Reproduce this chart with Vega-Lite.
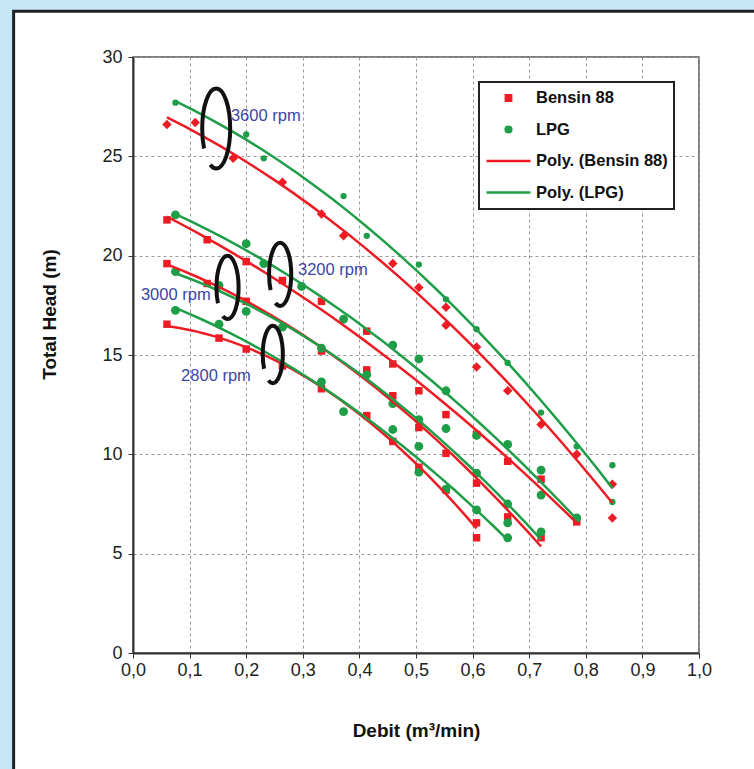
{
  "$schema": "https://vega.github.io/schema/vega-lite/v6.json",
  "autosize": "none",
  "width": 566,
  "height": 596,
  "padding": {"left": 133, "top": 57, "right": 55, "bottom": 116},
  "background": "white",
  "config": {
    "font": "Liberation Sans",
    "view": {"stroke": "#555", "strokeWidth": 1.5},
    "legend": {"strokeWidth": 2}
  },
  "datasets": {
    "pts": [
      {"fuel": "Bensin 88", "rpm": 3600, "q": 0.06, "h": 26.6},
      {"fuel": "Bensin 88", "rpm": 3600, "q": 0.11, "h": 26.7},
      {"fuel": "Bensin 88", "rpm": 3600, "q": 0.177, "h": 24.9},
      {"fuel": "Bensin 88", "rpm": 3600, "q": 0.264, "h": 23.7},
      {"fuel": "Bensin 88", "rpm": 3600, "q": 0.333, "h": 22.1},
      {"fuel": "Bensin 88", "rpm": 3600, "q": 0.372, "h": 21.0},
      {"fuel": "Bensin 88", "rpm": 3600, "q": 0.459, "h": 19.6},
      {"fuel": "Bensin 88", "rpm": 3600, "q": 0.505, "h": 18.4},
      {"fuel": "Bensin 88", "rpm": 3600, "q": 0.553, "h": 17.4},
      {"fuel": "Bensin 88", "rpm": 3600, "q": 0.553, "h": 16.5},
      {"fuel": "Bensin 88", "rpm": 3600, "q": 0.607, "h": 15.4},
      {"fuel": "Bensin 88", "rpm": 3600, "q": 0.607, "h": 14.4},
      {"fuel": "Bensin 88", "rpm": 3600, "q": 0.662, "h": 13.2},
      {"fuel": "Bensin 88", "rpm": 3600, "q": 0.721, "h": 11.5},
      {"fuel": "Bensin 88", "rpm": 3600, "q": 0.784, "h": 10.0},
      {"fuel": "Bensin 88", "rpm": 3600, "q": 0.847, "h": 8.5},
      {"fuel": "Bensin 88", "rpm": 3600, "q": 0.847, "h": 6.8},
      {"fuel": "LPG", "rpm": 3600, "q": 0.075, "h": 27.7},
      {"fuel": "LPG", "rpm": 3600, "q": 0.2, "h": 26.1},
      {"fuel": "LPG", "rpm": 3600, "q": 0.231, "h": 24.9},
      {"fuel": "LPG", "rpm": 3600, "q": 0.372, "h": 23.0},
      {"fuel": "LPG", "rpm": 3600, "q": 0.413, "h": 21.0},
      {"fuel": "LPG", "rpm": 3600, "q": 0.505, "h": 19.55},
      {"fuel": "LPG", "rpm": 3600, "q": 0.553, "h": 17.8},
      {"fuel": "LPG", "rpm": 3600, "q": 0.607, "h": 16.3},
      {"fuel": "LPG", "rpm": 3600, "q": 0.662, "h": 14.6},
      {"fuel": "LPG", "rpm": 3600, "q": 0.721, "h": 12.1},
      {"fuel": "LPG", "rpm": 3600, "q": 0.784, "h": 10.4},
      {"fuel": "LPG", "rpm": 3600, "q": 0.847, "h": 9.45},
      {"fuel": "LPG", "rpm": 3600, "q": 0.847, "h": 7.6},
      {"fuel": "Bensin 88", "rpm": 3200, "q": 0.06, "h": 21.8},
      {"fuel": "Bensin 88", "rpm": 3200, "q": 0.131, "h": 20.8},
      {"fuel": "Bensin 88", "rpm": 3200, "q": 0.2, "h": 19.7},
      {"fuel": "Bensin 88", "rpm": 3200, "q": 0.264, "h": 18.75},
      {"fuel": "Bensin 88", "rpm": 3200, "q": 0.333, "h": 17.7},
      {"fuel": "Bensin 88", "rpm": 3200, "q": 0.413, "h": 16.2},
      {"fuel": "Bensin 88", "rpm": 3200, "q": 0.459, "h": 14.55},
      {"fuel": "Bensin 88", "rpm": 3200, "q": 0.505, "h": 13.2},
      {"fuel": "Bensin 88", "rpm": 3200, "q": 0.553, "h": 12.0},
      {"fuel": "Bensin 88", "rpm": 3200, "q": 0.607, "h": 11.0},
      {"fuel": "Bensin 88", "rpm": 3200, "q": 0.662, "h": 9.65},
      {"fuel": "Bensin 88", "rpm": 3200, "q": 0.721, "h": 8.75},
      {"fuel": "Bensin 88", "rpm": 3200, "q": 0.784, "h": 6.6},
      {"fuel": "LPG", "rpm": 3200, "q": 0.075, "h": 22.05},
      {"fuel": "LPG", "rpm": 3200, "q": 0.2, "h": 20.6},
      {"fuel": "LPG", "rpm": 3200, "q": 0.231, "h": 19.6},
      {"fuel": "LPG", "rpm": 3200, "q": 0.298, "h": 18.45},
      {"fuel": "LPG", "rpm": 3200, "q": 0.372, "h": 16.8},
      {"fuel": "LPG", "rpm": 3200, "q": 0.459, "h": 15.5},
      {"fuel": "LPG", "rpm": 3200, "q": 0.505, "h": 14.8},
      {"fuel": "LPG", "rpm": 3200, "q": 0.553, "h": 13.2},
      {"fuel": "LPG", "rpm": 3200, "q": 0.607, "h": 10.95},
      {"fuel": "LPG", "rpm": 3200, "q": 0.662, "h": 10.5},
      {"fuel": "LPG", "rpm": 3200, "q": 0.721, "h": 9.2},
      {"fuel": "LPG", "rpm": 3200, "q": 0.721, "h": 7.95},
      {"fuel": "LPG", "rpm": 3200, "q": 0.784, "h": 6.8},
      {"fuel": "Bensin 88", "rpm": 3000, "q": 0.06, "h": 19.6},
      {"fuel": "Bensin 88", "rpm": 3000, "q": 0.131, "h": 18.6},
      {"fuel": "Bensin 88", "rpm": 3000, "q": 0.2, "h": 17.7},
      {"fuel": "Bensin 88", "rpm": 3000, "q": 0.333, "h": 15.2},
      {"fuel": "Bensin 88", "rpm": 3000, "q": 0.413, "h": 14.25},
      {"fuel": "Bensin 88", "rpm": 3000, "q": 0.459, "h": 12.95},
      {"fuel": "Bensin 88", "rpm": 3000, "q": 0.505, "h": 11.35},
      {"fuel": "Bensin 88", "rpm": 3000, "q": 0.553, "h": 10.05},
      {"fuel": "Bensin 88", "rpm": 3000, "q": 0.607, "h": 8.55},
      {"fuel": "Bensin 88", "rpm": 3000, "q": 0.662, "h": 6.85},
      {"fuel": "Bensin 88", "rpm": 3000, "q": 0.721, "h": 5.8},
      {"fuel": "LPG", "rpm": 3000, "q": 0.075, "h": 19.2},
      {"fuel": "LPG", "rpm": 3000, "q": 0.152, "h": 18.5},
      {"fuel": "LPG", "rpm": 3000, "q": 0.2, "h": 17.2},
      {"fuel": "LPG", "rpm": 3000, "q": 0.264, "h": 16.4},
      {"fuel": "LPG", "rpm": 3000, "q": 0.333, "h": 15.35},
      {"fuel": "LPG", "rpm": 3000, "q": 0.413, "h": 14.0},
      {"fuel": "LPG", "rpm": 3000, "q": 0.459, "h": 12.55},
      {"fuel": "LPG", "rpm": 3000, "q": 0.505, "h": 11.75},
      {"fuel": "LPG", "rpm": 3000, "q": 0.553, "h": 11.3},
      {"fuel": "LPG", "rpm": 3000, "q": 0.607, "h": 9.05},
      {"fuel": "LPG", "rpm": 3000, "q": 0.662, "h": 7.5},
      {"fuel": "LPG", "rpm": 3000, "q": 0.662, "h": 6.55},
      {"fuel": "LPG", "rpm": 3000, "q": 0.721, "h": 6.1},
      {"fuel": "Bensin 88", "rpm": 2800, "q": 0.06, "h": 16.55},
      {"fuel": "Bensin 88", "rpm": 2800, "q": 0.152, "h": 15.85},
      {"fuel": "Bensin 88", "rpm": 2800, "q": 0.2, "h": 15.3},
      {"fuel": "Bensin 88", "rpm": 2800, "q": 0.264, "h": 14.45},
      {"fuel": "Bensin 88", "rpm": 2800, "q": 0.333, "h": 13.3},
      {"fuel": "Bensin 88", "rpm": 2800, "q": 0.413, "h": 11.95},
      {"fuel": "Bensin 88", "rpm": 2800, "q": 0.459, "h": 10.65},
      {"fuel": "Bensin 88", "rpm": 2800, "q": 0.505, "h": 9.35},
      {"fuel": "Bensin 88", "rpm": 2800, "q": 0.553, "h": 8.2},
      {"fuel": "Bensin 88", "rpm": 2800, "q": 0.607, "h": 6.55},
      {"fuel": "Bensin 88", "rpm": 2800, "q": 0.607, "h": 5.8},
      {"fuel": "LPG", "rpm": 2800, "q": 0.075, "h": 17.25},
      {"fuel": "LPG", "rpm": 2800, "q": 0.152, "h": 16.55},
      {"fuel": "LPG", "rpm": 2800, "q": 0.333, "h": 13.65},
      {"fuel": "LPG", "rpm": 2800, "q": 0.372, "h": 12.15},
      {"fuel": "LPG", "rpm": 2800, "q": 0.459, "h": 11.25},
      {"fuel": "LPG", "rpm": 2800, "q": 0.505, "h": 10.4},
      {"fuel": "LPG", "rpm": 2800, "q": 0.505, "h": 9.1},
      {"fuel": "LPG", "rpm": 2800, "q": 0.553, "h": 8.25},
      {"fuel": "LPG", "rpm": 2800, "q": 0.607, "h": 7.2},
      {"fuel": "LPG", "rpm": 2800, "q": 0.662, "h": 5.8}
    ],
    "rings": [
      {"rpm": 3600, "q": 0.147, "h": 26.4},
      {"rpm": 3200, "q": 0.26, "h": 19.06},
      {"rpm": 3000, "q": 0.167, "h": 18.4},
      {"rpm": 2800, "q": 0.247, "h": 15.03}
    ],
    "labels": [
      {"label": "3600 rpm", "q": 0.173, "h": 27.04},
      {"label": "3200  rpm", "q": 0.2915, "h": 19.29},
      {"label": "3000 rpm", "q": 0.014, "h": 18.03},
      {"label": "2800 rpm", "q": 0.085, "h": 13.92}
    ]
  },
  "layer": [
    {
      "data": {"values": [{}]},
      "mark": {"type": "rect", "fill": "#c6e6f7", "clip": false},
      "encoding": {
        "x": {"datum": -0.4, "type": "quantitative", "scale": {"domain": [0, 1], "nice": false, "zero": false}},
        "x2": {"datum": -0.2109},
        "y": {"datum": -10, "type": "quantitative", "scale": {"domain": [0, 30], "nice": false}},
        "y2": {"datum": 40}
      }
    },
    {
      "data": {"values": [{}]},
      "mark": {"type": "rect", "fill": "#c6e6f7", "clip": false},
      "encoding": {
        "x": {"datum": -0.4, "type": "quantitative", "scale": {"domain": [0, 1], "nice": false, "zero": false}},
        "x2": {"datum": 1.5},
        "y": {"datum": 32.3, "type": "quantitative", "scale": {"domain": [0, 30], "nice": false}},
        "y2": {"datum": 40}
      }
    },
    {
      "data": {"name": "pts"},
      "mark": {"type": "point", "filled": true, "opacity": 1},
      "encoding": {
        "x": {
          "field": "q", "type": "quantitative",
          "scale": {"domain": [0, 1], "nice": false, "zero": false},
          "axis": {
            "values": [0, 0.1, 0.2, 0.3, 0.4, 0.5, 0.6, 0.7, 0.8, 0.9, 1.0],
            "labelExpr": "replace(format(datum.value, '.1f'), '.', ',')",
            "labelFlush": false,
            "title": "Debit (m³/min)",
            "grid": true, "gridColor": "#9a9a9a", "gridDash": [3, 3], "gridWidth": 1,
            "domainColor": "#333", "domainWidth": 2,
            "tickColor": "#333", "tickSize": 5, "tickWidth": 1,
            "labelFontSize": 18, "labelColor": "#222", "labelPadding": 3,
            "titleFontSize": 19, "titleFontWeight": "bold", "titleColor": "#111", "titlePadding": 42
          }
        },
        "y": {
          "field": "h", "type": "quantitative",
          "scale": {"domain": [0, 30], "nice": false},
          "axis": {
            "values": [0, 5, 10, 15, 20, 25, 30],
            "labelFlush": false,
            "title": "Total Head (m)",
            "titleY": 257,
            "grid": true, "gridColor": "#9a9a9a", "gridDash": [3, 3], "gridWidth": 1,
            "domainColor": "#333", "domainWidth": 2,
            "tickColor": "#333", "tickSize": 5, "tickWidth": 1,
            "labelFontSize": 18, "labelColor": "#222", "labelPadding": 6,
            "titleFontSize": 19, "titleFontWeight": "bold", "titleColor": "#111", "titlePadding": 42
          }
        },
        "color": {
          "field": "fuel", "type": "nominal",
          "scale": {
            "domain": ["Bensin 88", "LPG", "Poly. (Bensin 88)", "Poly. (LPG)"],
            "range": ["#ed1c24", "#1f9e48", "#ed1c24", "#1f9e48"]
          },
          "legend": {
            "title": null, "orient": "none", "legendX": 346, "legendY": 25, "padding": 6,
            "strokeColor": "#222", "fillColor": "white",
            "labelFont": "Liberation Sans", "labelFontSize": 16.5, "labelFontWeight": "bold", "labelColor": "#111",
            "labelOffset": 4, "rowPadding": 11.5, "clipHeight": 20, "symbolSize": 1936, "symbolStrokeWidth": 2.5, "symbolOpacity": 1
          }
        },
        "shape": {
          "condition": [
            {"test": "datum.rpm == 3600 && datum.fuel == 'Bensin 88'", "value": "diamond"},
            {"test": "datum.fuel == 'LPG'", "value": "circle"},
            {"test": "datum.fuel == 'Bensin 88'", "value": "square"}
          ],
          "field": "fuel", "type": "nominal",
          "scale": {
            "domain": ["Bensin 88", "LPG", "Poly. (Bensin 88)", "Poly. (LPG)"],
            "range": [
              "M-0.12,-0.12L0.12,-0.12L0.12,0.12L-0.12,0.12Z",
              "M0.13,0C0.13,0.0718,0.0718,0.13,0,0.13C-0.0718,0.13,-0.13,0.0718,-0.13,0C-0.13,-0.0718,-0.0718,-0.13,0,-0.13C0.0718,-0.13,0.13,-0.0718,0.13,0Z",
              "stroke",
              "stroke"
            ]
          },
          "legend": {
            "title": null, "orient": "none", "legendX": 346, "legendY": 25, "padding": 6,
            "strokeColor": "#222", "fillColor": "white",
            "labelFont": "Liberation Sans", "labelFontSize": 16.5, "labelFontWeight": "bold", "labelColor": "#111",
            "labelOffset": 4, "rowPadding": 11.5, "clipHeight": 20, "symbolSize": 1936, "symbolStrokeWidth": 2.5, "symbolOpacity": 1
          }
        },
        "size": {
          "condition": [
            {"test": "datum.rpm == 3600 && datum.fuel == 'LPG'", "value": 40},
            {"test": "datum.rpm == 3600", "value": 90},
            {"test": "datum.fuel == 'LPG'", "value": 78}
          ],
          "value": 56
        }
      }
    },
    {
      "data": {"name": "pts"},
      "transform": [
        {"regression": "h", "on": "q", "groupby": ["fuel", "rpm"], "method": "poly", "order": 2}
      ],
      "mark": {"type": "line", "strokeWidth": 2.5},
      "encoding": {
        "x": {"field": "q", "type": "quantitative", "scale": {"domain": [0, 1], "nice": false, "zero": false}},
        "y": {"field": "h", "type": "quantitative", "scale": {"domain": [0, 30], "nice": false}},
        "stroke": {
          "field": "fuel", "type": "nominal",
          "scale": {
            "domain": ["Bensin 88", "LPG", "Poly. (Bensin 88)", "Poly. (LPG)"],
            "range": ["#ed1c24", "#1f9e48", "#ed1c24", "#1f9e48"]
          },
          "legend": {
            "title": null, "orient": "none", "legendX": 346, "legendY": 25, "padding": 6,
            "strokeColor": "#222", "fillColor": "white",
            "labelFont": "Liberation Sans", "labelFontSize": 16.5, "labelFontWeight": "bold", "labelColor": "#111",
            "labelOffset": 4, "rowPadding": 11.5, "clipHeight": 20, "symbolSize": 1936, "symbolStrokeWidth": 2.5, "symbolOpacity": 1
          }
        },
        "detail": {"field": "rpm", "type": "nominal"}
      }
    },
    {
      "data": {"name": "rings"},
      "mark": {
        "type": "point", "filled": false, "stroke": "#111", "strokeWidth": 4, "opacity": 1,
        "shape": "M-0.303,0.5C-0.334,0.348,-0.35,0.176,-0.35,0C-0.35,-0.552,-0.193,-1,0,-1C0.193,-1,0.35,-0.552,0.35,0C0.35,0.552,0.193,1,0,1C-0.051,1,-0.102,0.968,-0.148,0.906"
      },
      "encoding": {
        "x": {"field": "q", "type": "quantitative", "scale": {"domain": [0, 1], "nice": false, "zero": false}},
        "y": {"field": "h", "type": "quantitative", "scale": {"domain": [0, 30], "nice": false}},
        "size": {
          "condition": [
            {"test": "datum.rpm == 3600", "value": 6400},
            {"test": "datum.rpm == 2800", "value": 3300}
          ],
          "value": 4000
        }
      }
    },
    {
      "data": {"name": "labels"},
      "mark": {"type": "text", "align": "left", "baseline": "middle", "fontSize": 16.5, "color": "#3c46a5", "font": "Liberation Sans"},
      "encoding": {
        "x": {"field": "q", "type": "quantitative", "scale": {"domain": [0, 1], "nice": false, "zero": false}},
        "y": {"field": "h", "type": "quantitative", "scale": {"domain": [0, 30], "nice": false}},
        "text": {"field": "label"}
      }
    },
    {
      "data": {"values": [{}]},
      "mark": {"type": "rect", "fill": null, "fillOpacity": 0, "stroke": "#222", "strokeWidth": 3, "clip": false},
      "encoding": {
        "x": {"datum": -0.2109, "type": "quantitative", "scale": {"domain": [0, 1], "nice": false, "zero": false}},
        "x2": {"datum": 1.5},
        "y": {"datum": -10, "type": "quantitative", "scale": {"domain": [0, 30], "nice": false}},
        "y2": {"datum": 32.3}
      }
    }
  ]
}
